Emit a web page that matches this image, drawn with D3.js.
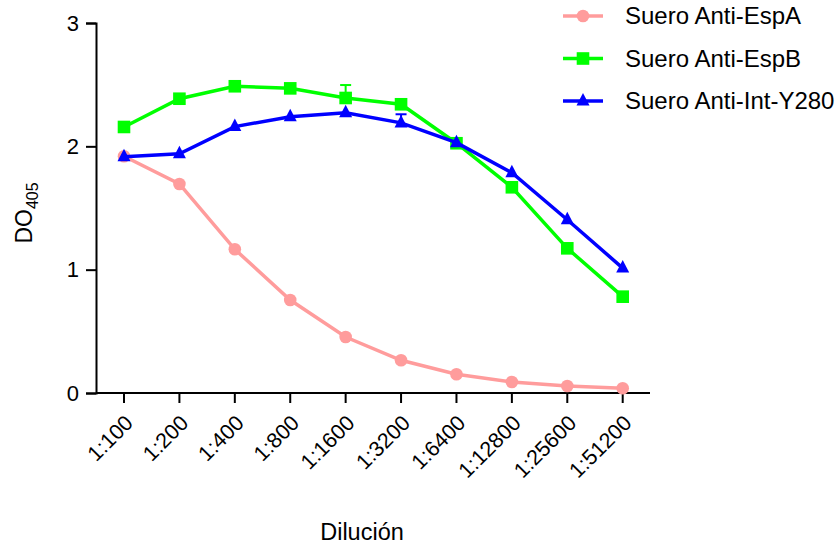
<!DOCTYPE html>
<html>
<head>
<meta charset="utf-8">
<script src="https://cdn.jsdelivr.net/npm/d3@7"></script>
<style>
  html, body { margin: 0; padding: 0; background: #fff; }
  svg { display: block; font-family: "Liberation Sans", Arial, sans-serif; }
</style>
</head>
<body>
<svg id="chart" width="835" height="546"></svg>
<script>
// Dilution series (x categories)
const diluciones = ["1:100", "1:200", "1:400", "1:800", "1:1600", "1:3200", "1:6400", "1:12800", "1:25600", "1:51200"];

// Mean OD405 per serum
const espA = [1.92, 1.695, 1.165, 0.754, 0.454, 0.265, 0.152, 0.089, 0.057, 0.038];
const espB = [2.157, 2.386, 2.487, 2.47, 2.392, 2.341, 2.025, 1.668, 1.173, 0.781];
const intY280 = [1.916, 1.94, 2.16, 2.24, 2.273, 2.19, 2.03, 1.786, 1.405, 1.013];

// Standard deviations (only visible where larger than the marker)
const espA_sd = [0, 0, 0, 0, 0, 0, 0, 0, 0, 0];
const espB_sd = [0, 0, 0, 0, 0.105, 0, 0, 0, 0, 0];
const intY280_sd = [0, 0, 0, 0, 0, 0.07, 0, 0, 0, 0];

const yTicks = [0, 1, 2, 3];

const series = [
  { name: "Suero Anti-EspA", values: espA, sd: espA_sd, color: "#FF9C9C", marker: "circle" },
  { name: "Suero Anti-EspB", values: espB, sd: espB_sd, color: "#00FF00", marker: "square" },
  { name: "Suero Anti-Int-Y280", values: intY280, sd: intY280_sd, color: "#0000FF", marker: "triangle" }
];

const svg = d3.select("#chart");
const plot = { left: 96, right: 650, top: 23, bottom: 393 };

const x = d3.scalePoint()
  .domain(diluciones)
  .range([124, 622.7]);

const y = d3.scaleLinear()
  .domain([0, 3])
  .range([plot.bottom, plot.top]);

// Y axis
const yAxis = svg.append("g")
  .attr("transform", `translate(${plot.left},0)`)
  .call(d3.axisLeft(y).tickValues(yTicks).tickFormat(d3.format("d")).tickSize(10).tickPadding(7));
yAxis.select(".domain").attr("stroke", "#000").attr("stroke-width", 2);
yAxis.selectAll(".tick line").attr("stroke", "#000").attr("stroke-width", 2);
yAxis.selectAll(".tick text").attr("font-size", 22).attr("fill", "#000")
  .attr("font-family", "Liberation Sans, Arial, sans-serif");

// X axis line
svg.append("line")
  .attr("x1", plot.left).attr("x2", plot.right)
  .attr("y1", plot.bottom).attr("y2", plot.bottom)
  .attr("stroke", "#000").attr("stroke-width", 2);

// X ticks and rotated labels
const xt = svg.append("g").selectAll("g").data(diluciones).join("g")
  .attr("transform", d => `translate(${x(d)},${plot.bottom})`);
xt.append("line").attr("y1", 0).attr("y2", 10).attr("stroke", "#000").attr("stroke-width", 2);
xt.append("text")
  .attr("transform", "translate(5,26) rotate(-45)")
  .attr("text-anchor", "end")
  .attr("dy", "0.35em")
  .attr("font-size", 21.5)
  .attr("fill", "#000")
  .text(d => d);

// Axis titles
svg.append("text")
  .attr("x", 362).attr("y", 540)
  .attr("text-anchor", "middle")
  .attr("font-size", 23.5)
  .text("Dilución");

const yl = svg.append("text")
  .attr("transform", `translate(32,${(plot.top + plot.bottom) / 2 + 5}) rotate(-90)`)
  .attr("text-anchor", "middle")
  .attr("font-size", 23);
yl.append("tspan").text("DO");
yl.append("tspan").attr("font-size", 16).attr("dy", 6).text("405");

// Marker drawing helper
function drawMarker(g, type, color) {
  if (type === "circle") {
    g.append("circle").attr("r", 6.3).attr("fill", color);
  } else if (type === "square") {
    g.append("rect").attr("x", -6.3).attr("y", -6.3).attr("width", 12.6).attr("height", 12.6).attr("fill", color);
  } else {
    g.append("path").attr("d", "M0,-8 L6.5,4.5 L-6.5,4.5 Z").attr("fill", color);
  }
}

const line = d3.line().x((d, i) => x(diluciones[i])).y(d => y(d));

series.forEach(s => {
  const g = svg.append("g");
  // error bars (upper only)
  s.sd.forEach((sd, i) => {
    if (sd > 0) {
      const cx = x(diluciones[i]);
      g.append("line").attr("x1", cx).attr("x2", cx)
        .attr("y1", y(s.values[i])).attr("y2", y(s.values[i] + sd))
        .attr("stroke", s.color).attr("stroke-width", 2);
      g.append("line").attr("x1", cx - 5.5).attr("x2", cx + 5.5)
        .attr("y1", y(s.values[i] + sd)).attr("y2", y(s.values[i] + sd))
        .attr("stroke", s.color).attr("stroke-width", 2);
    }
  });
  g.append("path")
    .attr("d", line(s.values))
    .attr("fill", "none")
    .attr("stroke", s.color)
    .attr("stroke-width", 3.5);
  s.values.forEach((v, i) => {
    const m = g.append("g").attr("transform", `translate(${x(diluciones[i])},${y(v)})`);
    drawMarker(m, s.marker, s.color);
  });
});

// Legend
const legend = svg.append("g");
series.forEach((s, i) => {
  const ly = 16 + i * 42.5;
  const lg = legend.append("g").attr("transform", `translate(0,${ly})`);
  lg.append("line").attr("x1", 563).attr("x2", 603).attr("y1", 0).attr("y2", 0)
    .attr("stroke", s.color).attr("stroke-width", 3.5);
  const m = lg.append("g").attr("transform", "translate(583,0)");
  drawMarker(m, s.marker, s.color);
  lg.append("text")
    .attr("x", 625).attr("y", 0).attr("dy", "0.35em")
    .attr("font-size", 24)
    .text(s.name);
});
</script>
</body>
</html>
